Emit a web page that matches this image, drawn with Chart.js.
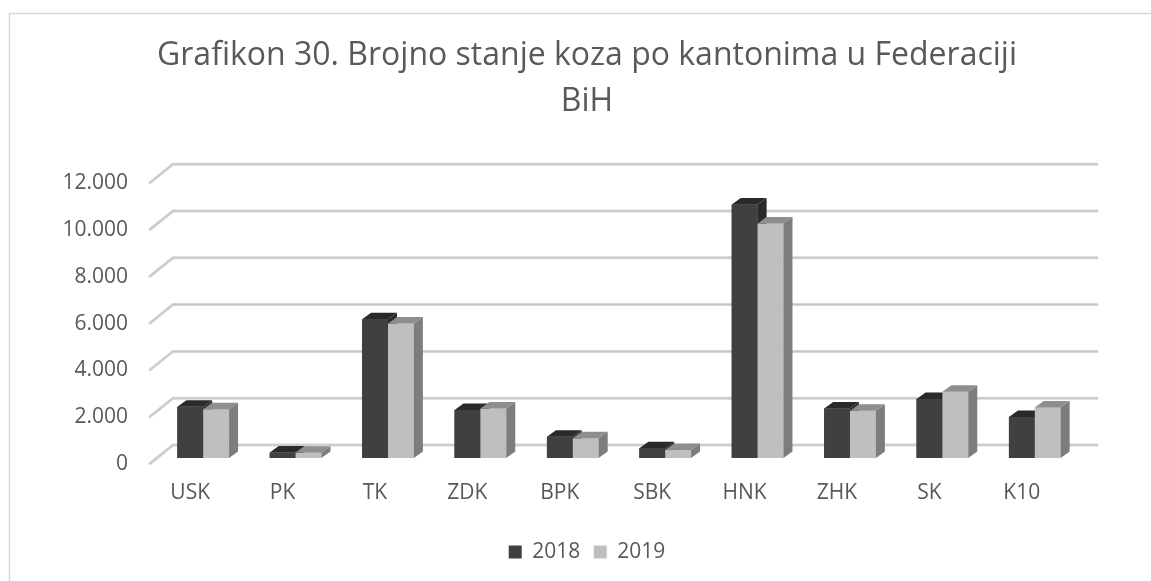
<!DOCTYPE html>
<html>
<head>
<meta charset="utf-8">
<script src="https://cdn.jsdelivr.net/npm/chart.js@4"></script>
<style>
  body { margin: 0; overflow: hidden; background: #fff; }
  #wrap { position: relative; width: 1174px; height: 581px; }
</style>
</head>
<body>
<div id="wrap"><canvas id="myChart"></canvas></div>
<script>
'use strict'

// data
const cantons = ['USK', 'PK', 'TK', 'ZDK', 'BPK', 'SBK', 'HNK', 'ZHK', 'SK', 'K10'];
const goats2018 = [2190, 230, 5930, 2050, 910, 415, 10830, 2120, 2520, 1750];
const goats2019 = [2080, 220, 5750, 2120, 840, 340, 10020, 2020, 2830, 2160];
const yTicks = [0, 2000, 4000, 6000, 8000, 10000, 12000];

// depth of the fake 3d look
const DEPTH_X = 9;
const DEPTH_Y = 6.5;
const WALL_X = 16;
const WALL_Y = 13;

function formatThousands(v) {
  return String(v).replace(/\B(?=(\d{3})+(?!\d))/g, '.');
}

// chart frame
const framePlugin = {
  id: 'frame',
  beforeDraw(chart) {
    const c = chart.ctx;
    c.save();
    c.fillStyle = '#ffffff';
    c.fillRect(0, 0, chart.width, chart.height);
    c.strokeStyle = '#d9d9d9';
    c.lineWidth = 1.5;
    c.strokeRect(9.5, 13.5, 1155, 620);
    c.restore();
  }
};

// back wall gridlines + the slanted bits on the left
const wallPlugin = {
  id: 'wall',
  beforeDatasetsDraw(chart) {
    const c = chart.ctx;
    const area = chart.chartArea;
    const y = chart.scales.y;
    c.save();
    c.lineCap = 'round';
    yTicks.forEach(v => {
      const yb = y.getPixelForValue(v) - WALL_Y;
      c.beginPath();
      c.moveTo(area.left - 7, yb + 18.5);
      c.lineTo(area.left + WALL_X, yb);
      c.lineTo(area.right + WALL_X, yb);
      c.strokeStyle = '#d6d6d6';
      c.lineWidth = 3;
      c.stroke();
      c.strokeStyle = '#c4c4c4';
      c.lineWidth = 1;
      c.stroke();
    });
    c.restore();
  }
};

// redraw bars in dataset order, each with its top and side face
const boxPlugin = {
  id: 'box3d',
  afterDatasetsDraw(chart) {
    const c = chart.ctx;
    c.save();
    chart.data.datasets.forEach((ds, i) => {
      const meta = chart.getDatasetMeta(i);
      meta.data.forEach(bar => {
        bar.draw(c);
        const { x, y, base, width } = bar.getProps(['x', 'y', 'base', 'width'], true);
        const l = x - width / 2;
        const r = x + width / 2;
        // top
        c.beginPath();
        c.moveTo(l, y);
        c.lineTo(l + DEPTH_X, y - DEPTH_Y);
        c.lineTo(r + DEPTH_X, y - DEPTH_Y);
        c.lineTo(r, y);
        c.closePath();
        c.fillStyle = ds.topColor;
        c.fill();
        // side
        c.beginPath();
        c.moveTo(r, y);
        c.lineTo(r + DEPTH_X, y - DEPTH_Y);
        c.lineTo(r + DEPTH_X, base - DEPTH_Y);
        c.lineTo(r, base);
        c.closePath();
        c.fillStyle = ds.sideColor;
        c.fill();
      });
    });
    c.restore();
  }
};

const ctx = document.getElementById('myChart').getContext('2d');
const myChart = new Chart(ctx, {
  type: 'bar',
  data: {
    labels: cantons,
    datasets: [
      {
        label: '2018',
        data: goats2018,
        backgroundColor: '#404040',
        topColor: '#2a2a2a',
        sideColor: '#2a2a2a',
      },
      {
        label: '2019',
        data: goats2019,
        backgroundColor: '#bfbfbf',
        topColor: '#8e8e8e',
        sideColor: '#7d7d7d',
      },
    ],
  },
  options: {
    responsive: true,
    maintainAspectRatio: false,
    animation: false,
    events: [],
    categoryPercentage: 0.56,
    barPercentage: 1,
    layout: { padding: { left: 0, right: 0, top: 0, bottom: 8.5 } },
    scales: {
      x: {
        grid: { display: false, drawTicks: false },
        border: { display: false },
        ticks: {
          color: '#595959',
          font: { family: 'Open Sans', size: 21 },
          padding: 22,
          labelOffset: -13,
          autoSkip: false,
          maxRotation: 0,
        },
        afterFit: s => { s.height = 70; },
      },
      y: {
        min: 0,
        max: 12000,
        grid: { display: false, drawTicks: false },
        border: { display: false },
        ticks: {
          stepSize: 2000,
          color: '#595959',
          font: { family: 'Open Sans', size: 21 },
          padding: 29,
          labelOffset: 6,
          callback: v => formatThousands(v),
        },
        afterFit: s => { s.width = 157; },
      },
      // empty right axis, only there to keep title and legend centred
      yRight: {
        position: 'right',
        min: 0,
        max: 12000,
        grid: { display: false, drawTicks: false },
        border: { display: false },
        ticks: { display: false },
        afterFit: s => { s.width = 93; },
      },
    },
    plugins: {
      title: {
        display: true,
        text: ['Grafikon 30. Brojno stanje koza po kantonima u Federaciji', 'BiH'],
        color: '#595959',
        font: { family: 'Open Sans', size: 32, weight: 'normal', lineHeight: 1.44 },
        padding: { top: 33, bottom: 52 },
      },
      legend: {
        position: 'bottom',
        labels: {
          color: '#595959',
          font: { family: 'Open Sans', size: 21 },
          boxWidth: 13,
          boxHeight: 13,
          padding: 13.5,
        },
      },
      tooltip: { enabled: false },
    },
  },
  plugins: [framePlugin, wallPlugin, boxPlugin],
});
</script>
</body>
</html>
